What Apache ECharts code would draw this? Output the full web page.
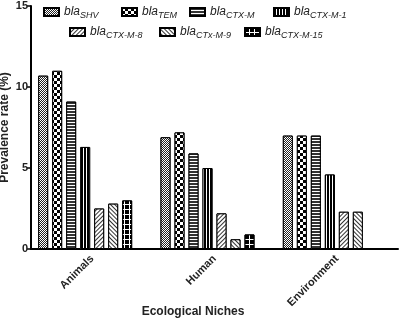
<!DOCTYPE html>
<html>
<head>
<meta charset="utf-8">
<script src="https://cdn.jsdelivr.net/npm/echarts@6/dist/echarts.min.js"></script>
<style>
  html, body { margin: 0; padding: 0; background: #fff; }
  #main { width: 400px; height: 325px; }
</style>
</head>
<body>
<div id="main"></div>
<script>
var niches = ['Animals', 'Human', 'Environment'];
var genes = ['SHV', 'TEM', 'CTX-M', 'CTX-M-1', 'CTX-M-8', 'CTx-M-9', 'CTX-M-15'];
var shv = [10.7, 6.9, 7.0];
var tem = [11.0, 7.2, 7.0];
var ctxm = [9.1, 5.9, 7.0];
var ctxm1 = [6.3, 5.0, 4.6];
var ctxm8 = [2.5, 2.2, 2.3];
var ctxm9 = [2.8, 0.6, 2.3];
var ctxm15 = [3.0, 0.9, null];
var values = [shv, tem, ctxm, ctxm1, ctxm8, ctxm9, ctxm15];
var yTicks = [0, 5, 10, 15];

// fill patterns, one per gene
var decals = [
    { color: '#222', dashArrayX: [[1, 1], [0, 1, 1, 0]], dashArrayY: [1, 0] },
    { color: '#000', dashArrayX: [[3, 3], [0, 3, 3, 0]], dashArrayY: [3, 0] },
    { color: '#333', dashArrayX: [1, 0], dashArrayY: [2, 1] },
    { color: '#000', dashArrayX: [2, 1], dashArrayY: [1, 0] },
    { color: '#333', dashArrayX: [1, 0], dashArrayY: [1, 2], rotation: -Math.PI / 4 },
    { color: '#333', dashArrayX: [1, 0], dashArrayY: [1, 1.5], rotation: Math.PI / 4 },
    { color: '#000', dashArrayX: [4, 1], dashArrayY: [4, 1] }
];
// legend slot positions (left, top)
var legendPos = [[43, 6], [121, 6], [189, 6], [273, 6], [69, 26], [159, 26], [244, 26]];

var font = 'Liberation Sans, Arial, sans-serif';

var series = genes.map(function (g, i) {
    return {
        name: g,
        type: 'bar',
        barWidth: 10,
        barGap: '40%',
        data: values[i],
        itemStyle: {
            color: '#fff',
            borderColor: '#000',
            borderWidth: 1,
            decal: Object.assign({ symbol: 'rect', symbolSize: 1, backgroundColor: '#fff' }, decals[i])
        }
    };
});
// Prism leaves an empty slot after the last data set
series.push({ name: '', type: 'bar', barWidth: 10, barGap: '40%', data: [] });

var legends = genes.map(function (g, i) {
    return {
        data: [g],
        left: legendPos[i][0],
        top: legendPos[i][1],
        padding: 0,
        itemWidth: 15,
        itemHeight: 8,
        itemGap: 0,
        icon: 'rect',
        selectedMode: false,
        formatter: function (name) { return '{a|bla}{s|' + name + '}'; },
        textStyle: {
            rich: {
                a: { fontFamily: font, fontStyle: 'italic', fontSize: 12, color: '#222' },
                s: { fontFamily: font, fontStyle: 'italic', fontSize: 9, color: '#222', padding: [6, 0, 0, 0] }
            }
        }
    };
});

var myChart = echarts.init(document.getElementById('main'));
var option = {
    animation: false,
    legend: legends,
    grid: { left: 31, right: 2, top: 6, bottom: 76, outerBoundsMode: 'none' },
    xAxis: {
        type: 'category',
        data: niches,
        name: 'Ecological Niches',
        nameLocation: 'middle',
        nameGap: 57,
        nameMoveOverlap: false,
        nameTextStyle: { fontFamily: font, fontWeight: 'bold', fontSize: 12, color: '#222', padding: [0, 43, 0, 0] },
        axisLine: { lineStyle: { color: '#000', width: 2 } },
        axisTick: { alignWithLabel: true, length: 4, lineStyle: { color: '#000', width: 1.5 } },
        axisLabel: { rotate: 45, margin: 8, fontFamily: font, fontWeight: 'bold', fontSize: 11, color: '#222' }
    },
    yAxis: {
        type: 'value',
        min: yTicks[0],
        max: yTicks[yTicks.length - 1],
        interval: yTicks[1] - yTicks[0],
        name: 'Prevalence rate (%)',
        nameLocation: 'middle',
        nameGap: 20,
        nameMoveOverlap: false,
        nameTextStyle: { fontFamily: font, fontWeight: 'bold', fontSize: 12, color: '#222' },
        axisLine: { show: true, lineStyle: { color: '#000', width: 2 } },
        axisTick: { show: true, length: 4, lineStyle: { color: '#000', width: 1.5 } },
        axisLabel: { margin: 3, fontFamily: font, fontWeight: 'bold', fontSize: 11, color: '#222' },
        splitLine: { show: false }
    },
    series: series
};
myChart.setOption(option);
</script>
</body>
</html>
